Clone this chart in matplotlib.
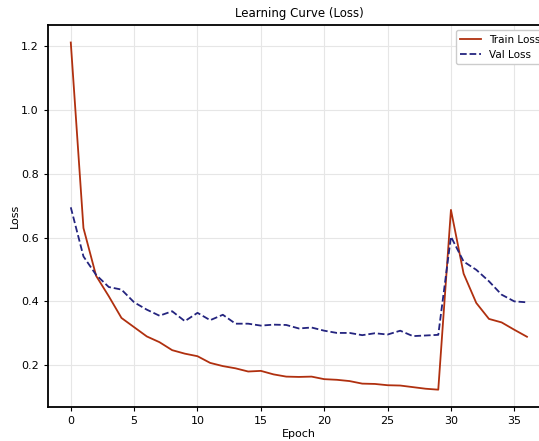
import matplotlib
matplotlib.use("Agg")
from matplotlib import pyplot as plt
import numpy as np

epochs = np.arange(37)
train_loss = [1.212, 0.63, 0.48, 0.416, 0.348, 0.319, 0.29, 0.272, 0.247, 0.236,
              0.228, 0.207, 0.197, 0.19, 0.18, 0.182, 0.171, 0.164, 0.163, 0.164,
              0.156, 0.154, 0.15, 0.142, 0.141, 0.137, 0.136, 0.131, 0.126, 0.123,
              0.687, 0.487, 0.395, 0.345, 0.334, 0.311, 0.289]
val_loss = [0.695, 0.541, 0.483, 0.445, 0.437, 0.397, 0.374, 0.355, 0.369, 0.338,
            0.364, 0.341, 0.358, 0.33, 0.33, 0.324, 0.327, 0.326, 0.315, 0.318,
            0.308, 0.301, 0.301, 0.294, 0.3, 0.296, 0.308, 0.291, 0.293, 0.295,
            0.603, 0.525, 0.499, 0.463, 0.421, 0.4, 0.397]

fig = plt.figure(figsize=(5.39, 4.41), dpi=100)
ax = fig.add_axes([0.089, 0.077, 0.931, 0.866])

ax.plot(epochs, train_loss, color='#b0300f', lw=1.3, label='Train Loss')
ax.plot(epochs, val_loss, color='#24247f', lw=1.3, ls='--', label='Val Loss')

ax.set_title('Learning Curve (Loss)', fontsize=8.5)
ax.set_xlabel('Epoch', fontsize=8, labelpad=2)
ax.set_ylabel('Loss', fontsize=8, labelpad=1)
ax.tick_params(labelsize=8, length=3)
ax.grid(True, color='#e6e6e6', lw=0.8)
for s in ax.spines.values():
    s.set_linewidth(1.3)
ax.spines['right'].set_visible(False)
ax.legend(loc='upper right', fontsize=7.5, framealpha=1, edgecolor='#cccccc',
          bbox_to_anchor=(1.0, 1.0))

fig.savefig('out.png', dpi=100)
